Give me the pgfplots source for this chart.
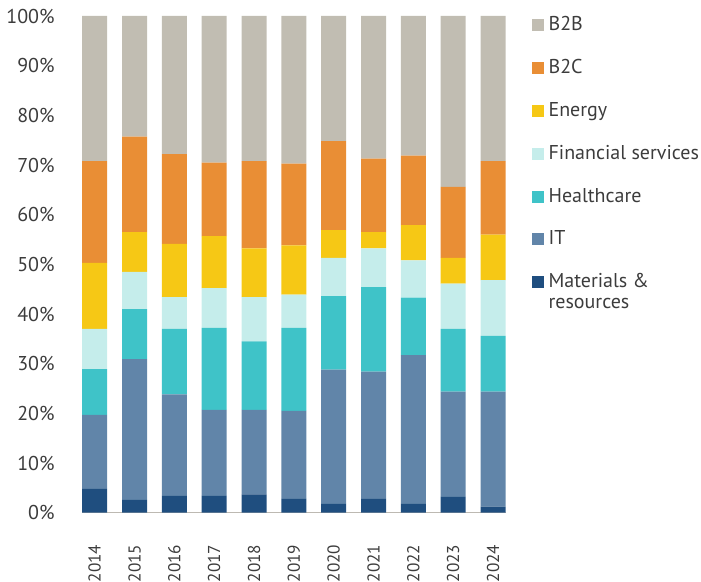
\documentclass[border=0pt]{standalone}
\usepackage{pgfplots}
\pgfplotsset{compat=1.18}
\usepackage{pgfplotstable}
\usepackage{fontspec}
\setmainfont{PT Sans}
\definecolor{cB2B}{HTML}{C1BDB2}
\definecolor{cB2C}{HTML}{E98E35}
\definecolor{cEn}{HTML}{F6C815}
\definecolor{cFin}{HTML}{C5EDEB}
\definecolor{cHe}{HTML}{3FC3C8}
\definecolor{cIT}{HTML}{6185A9}
\definecolor{cMat}{HTML}{1F4E7F}
\definecolor{txt}{HTML}{3C3C3C}
\definecolor{axl}{HTML}{BDB9B2}
\pgfplotstableread{
x Mat IT He Fin En B2C B2B
0 4.8 14.9 9.2 8.1 13.3 20.5 29.2
1 2.6 28.3 10.1 7.5 8.0 19.2 24.3
2 3.4 20.4 13.2 6.4 10.7 18.1 27.8
3 3.4 17.3 16.5 8.0 10.5 14.8 29.5
4 3.7 17.0 13.8 8.9 9.8 17.6 29.2
5 2.8 17.7 16.7 6.7 9.9 16.5 29.7
6 1.8 27.0 14.8 7.7 5.6 17.9 25.2
7 2.8 25.6 17.0 7.8 3.3 14.8 28.7
8 1.8 29.9 11.6 7.5 7.1 14.0 28.1
9 3.2 21.2 12.6 9.1 5.2 14.3 34.4
10 1.2 23.2 11.2 11.2 9.2 14.8 29.2
}\datatable
\begin{document}
\begin{tikzpicture}
\path[use as bounding box] (-41pt,-34.65pt) rectangle (309.5pt,256.35pt);
\begin{axis}[
  at={(0,0)}, anchor=south west,
  scale only axis,
  width=211.85pt, height=248.35pt,
  ybar stacked, bar width=12.5pt,
  xmin=-0.3187, xmax=10.3187, ymin=0, ymax=100,
  axis x line*=bottom, axis y line*=left,
  x axis line style={draw=axl, line width=0.8pt, -},
  y axis line style={draw=none},
  xtick={0,...,10},
  xticklabels={2014,2015,2016,2017,2018,2019,2020,2021,2022,2023,2024},
  xticklabel style={rotate=90, anchor=east, text=txt, font=\fontsize{8.6}{10}\selectfont},
  xticklabel shift=12.5pt,
  ytick={0,10,...,100},
  yticklabels={0\%,10\%,20\%,30\%,40\%,50\%,60\%,70\%,80\%,90\%,100\%},
  yticklabel style={text=txt},
  yticklabel shift=10.2pt,
  major tick length=0pt,
  tick style={draw=none},
  clip=false,
  reverse legend,
  legend image code/.code={\fill[#1] (0pt,-3pt) rectangle (6pt,3pt);},
  legend style={at={(1.0620,1.0075)}, anchor=north west, draw=none, fill=none,
    inner sep=0pt, outer sep=0pt, row sep=8.9pt, column sep=0.3pt,
    text=txt, cells={anchor=west}},
]
\addplot[fill=cMat, draw=none] table[x=x, y=Mat] {\datatable};
\addplot[fill=cIT, draw=none] table[x=x, y=IT] {\datatable};
\addplot[fill=cHe, draw=none] table[x=x, y=He] {\datatable};
\addplot[fill=cFin, draw=none] table[x=x, y=Fin] {\datatable};
\addplot[fill=cEn, draw=none] table[x=x, y=En] {\datatable};
\addplot[fill=cB2C, draw=none] table[x=x, y=B2C] {\datatable};
\addplot[fill=cB2B, draw=none] table[x=x, y=B2B] {\datatable};
\legend{\rlap{\smash{\raisebox{-1.05em}{resources}}}Materials \&,IT,Healthcare,Financial services,Energy,B2C,B2B}
\end{axis}
\end{tikzpicture}
\end{document}
